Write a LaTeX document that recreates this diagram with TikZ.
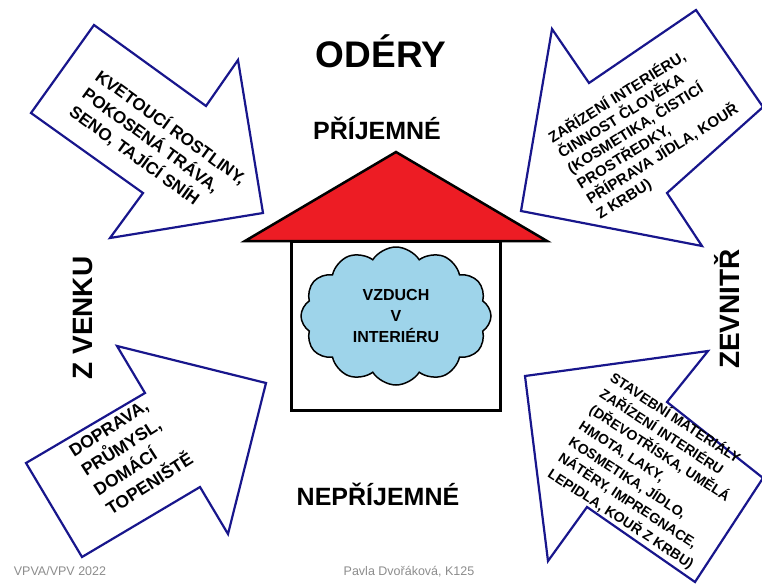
\documentclass[tikz,border=0pt]{standalone}
\usepackage{fontspec}
\setmainfont{Liberation Sans}
\usepackage{tikz}
\usetikzlibrary{shapes.symbols}
\definecolor{arrowblue}{RGB}{24,22,140}
\definecolor{roofred}{RGB}{237,28,36}
\definecolor{cloudblue}{RGB}{158,212,234}
\definecolor{footgray}{RGB}{140,140,140}
\begin{document}
\begin{tikzpicture}[x=1pt, y=-1pt,
    bigarrow/.style={draw=arrowblue, fill=white, line width=2.2pt, line join=miter},
    arrowtext/.style={align=left, inner sep=0pt},
    title/.style={inner sep=0pt, font=\bfseries}]
    \useasboundingbox (0,0) rectangle (762,583);
    % four arrows
    \filldraw[bigarrow] (94,25) -- (206,106) -- (238,60) -- (263,213) -- (110,238)
        -- (143,193) -- (31,113) -- cycle;
    \filldraw[bigarrow] (696,10) -- (763,107) -- (667,193) -- (702,246) -- (521,211)
        -- (552,29) -- (589,83) -- cycle;
    \filldraw[bigarrow] (117,346) -- (266,383) -- (228,534) -- (200,487) -- (82,557)
        -- (26,463) -- (145,393) -- cycle;
    \filldraw[bigarrow] (525,376) -- (708,351) -- (667,402) -- (763,478) -- (695,582)
        -- (587,507) -- (548,561) -- cycle;
    \node[arrowtext, rotate=-36, font=\bfseries\fontsize{17}{22}\selectfont] (outtop) at (158,145)
        {KVETOUCÍ ROSTLINY,\\POKOSENÁ TRÁVA,\\SENO, TAJÍCÍ SNÍH};
    \node[arrowtext, rotate=32, font=\bfseries\fontsize{15}{18}\selectfont] (intop) at (648,131)
        {ZAŘÍZENÍ INTERIÉRU,\\ČINNOST ČLOVĚKA\\(KOSMETIKA, ČISTICÍ\\PROSTŘEDKY,\\PŘÍPRAVA JÍDLA, KOUŘ\\Z KRBU)};
    \node[arrowtext, rotate=32.5, font=\bfseries\fontsize{17.5}{23}\selectfont] (outbottom) at (131,455)
        {DOPRAVA,\\PRŮMYSL,\\DOMÁCÍ\\TOPENIŠTĚ};
    \node[arrowtext, rotate=-33, font=\bfseries\fontsize{14}{19}\selectfont] (inbottom) at (652,471)
        {STAVEBNÍ MATERIÁLY\\ZAŘÍZENÍ INTERIÉRU\\(DŘEVOTŘÍSKA, UMĚLÁ\\HMOTA, LAKY,\\KOSMETIKA, JÍDLO,\\NÁTĚRY, IMPREGNACE,\\LEPIDLA, KOUŘ Z KRBU)};
    % house
    \draw[line width=3pt] (291,241) rectangle (500,410);
    \filldraw[fill=roofred, draw=black, line width=2.5pt, line join=miter]
        (245,241) -- (396,152) -- (547,241) -- cycle;
    \node[cloud, cloud puffs=12, cloud puff arc=115, aspect=1.4, draw, fill=cloudblue,
        line width=1.5pt, minimum width=190pt, minimum height=138pt, align=center,
        font=\bfseries\fontsize{16}{21}\selectfont] (air) at (396,316)
        {VZDUCH\\V\\INTERIÉRU};
    % titles
    \node[title, font=\bfseries\fontsize{37}{40}\selectfont] (odery) at (381,51) {ODÉRY};
    \node[title, font=\bfseries\fontsize{25}{28}\selectfont] (good) at (377,128) {PŘÍJEMNÉ};
    \node[title, font=\bfseries\fontsize{25}{28}\selectfont] (bad) at (378,494) {NEPŘÍJEMNÉ};
    \node[title, rotate=90, font=\bfseries\fontsize{28}{30}\selectfont] (outside) at (83,318) {Z VENKU};
    \node[title, rotate=90, font=\bfseries\fontsize{28}{30}\selectfont] (inside) at (727,309) {ZEVNITŘ};
    % footer
    \node[inner sep=0pt, anchor=base, text=footgray, font=\fontsize{12.5}{14}\selectfont] (course) at (60,575) {VPVA/VPV 2022};
    \node[inner sep=0pt, anchor=base, text=footgray, font=\fontsize{12.5}{14}\selectfont] (author) at (409,575) {Pavla Dvořáková, K125};
\end{tikzpicture}
\end{document}
